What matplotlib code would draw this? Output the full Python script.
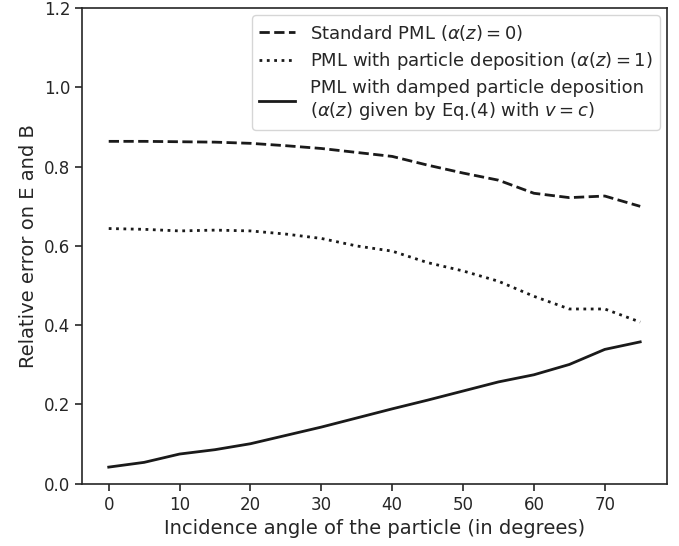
import matplotlib
matplotlib.use("Agg")
import matplotlib.pyplot as plt

angles = [0, 5, 10, 15, 20, 25, 30, 35, 40, 45, 50, 55, 60, 65, 70, 75]
standard_pml = [0.864, 0.864, 0.863, 0.862, 0.859, 0.853, 0.846, 0.836,
                0.826, 0.804, 0.784, 0.766, 0.733, 0.722, 0.726, 0.700]
particle_dep = [0.644, 0.642, 0.638, 0.640, 0.638, 0.630, 0.619, 0.600,
                0.587, 0.558, 0.537, 0.511, 0.473, 0.441, 0.441, 0.408]
damped_dep = [0.042, 0.054, 0.075, 0.086, 0.101, 0.122, 0.143, 0.166,
              0.189, 0.211, 0.234, 0.257, 0.275, 0.301, 0.339, 0.358]

labels = [
    r"Standard PML ($\alpha(z)=0$)",
    r"PML with particle deposition ($\alpha(z)=1$)",
    "PML with damped particle deposition\n"
    r"($\alpha(z)$ given by Eq.(4) with $v=c$)",
]

text_color = "#262626"
plt.rcParams["font.family"] = "DejaVu Sans"
plt.rcParams["text.color"] = text_color
plt.rcParams["axes.labelcolor"] = text_color
plt.rcParams["xtick.color"] = text_color
plt.rcParams["ytick.color"] = text_color

fig = plt.figure(figsize=(6.79, 5.46), dpi=100)
ax = fig.add_axes([0.121, 0.114, 0.861, 0.871])

line_color = "#1a1a1a"
ax.plot(angles, standard_pml, linestyle="--", color=line_color, lw=2, label=labels[0])
ax.plot(angles, particle_dep, linestyle=":", color=line_color, lw=2, label=labels[1])
ax.plot(angles, damped_dep, linestyle="-", color=line_color, lw=2, label=labels[2])

ax.set_ylim(0, 1.2)
ax.set_xticks([0, 10, 20, 30, 40, 50, 60, 70])
ax.set_yticks([0.0, 0.2, 0.4, 0.6, 0.8, 1.0, 1.2])
ax.tick_params(labelsize=12, length=5, width=1.2)
for s in ax.spines.values():
    s.set_color(text_color)
    s.set_linewidth(1.2)

ax.set_xlabel("Incidence angle of the particle (in degrees)", fontsize=14)
ax.set_ylabel("Relative error on E and B", fontsize=14)

leg = ax.legend(loc="upper right", fontsize=13, framealpha=0.8,
                edgecolor="0.8", handlelength=2.0, borderaxespad=0.4,
                labelspacing=0.4)

fig.savefig("out.png", dpi=100)
